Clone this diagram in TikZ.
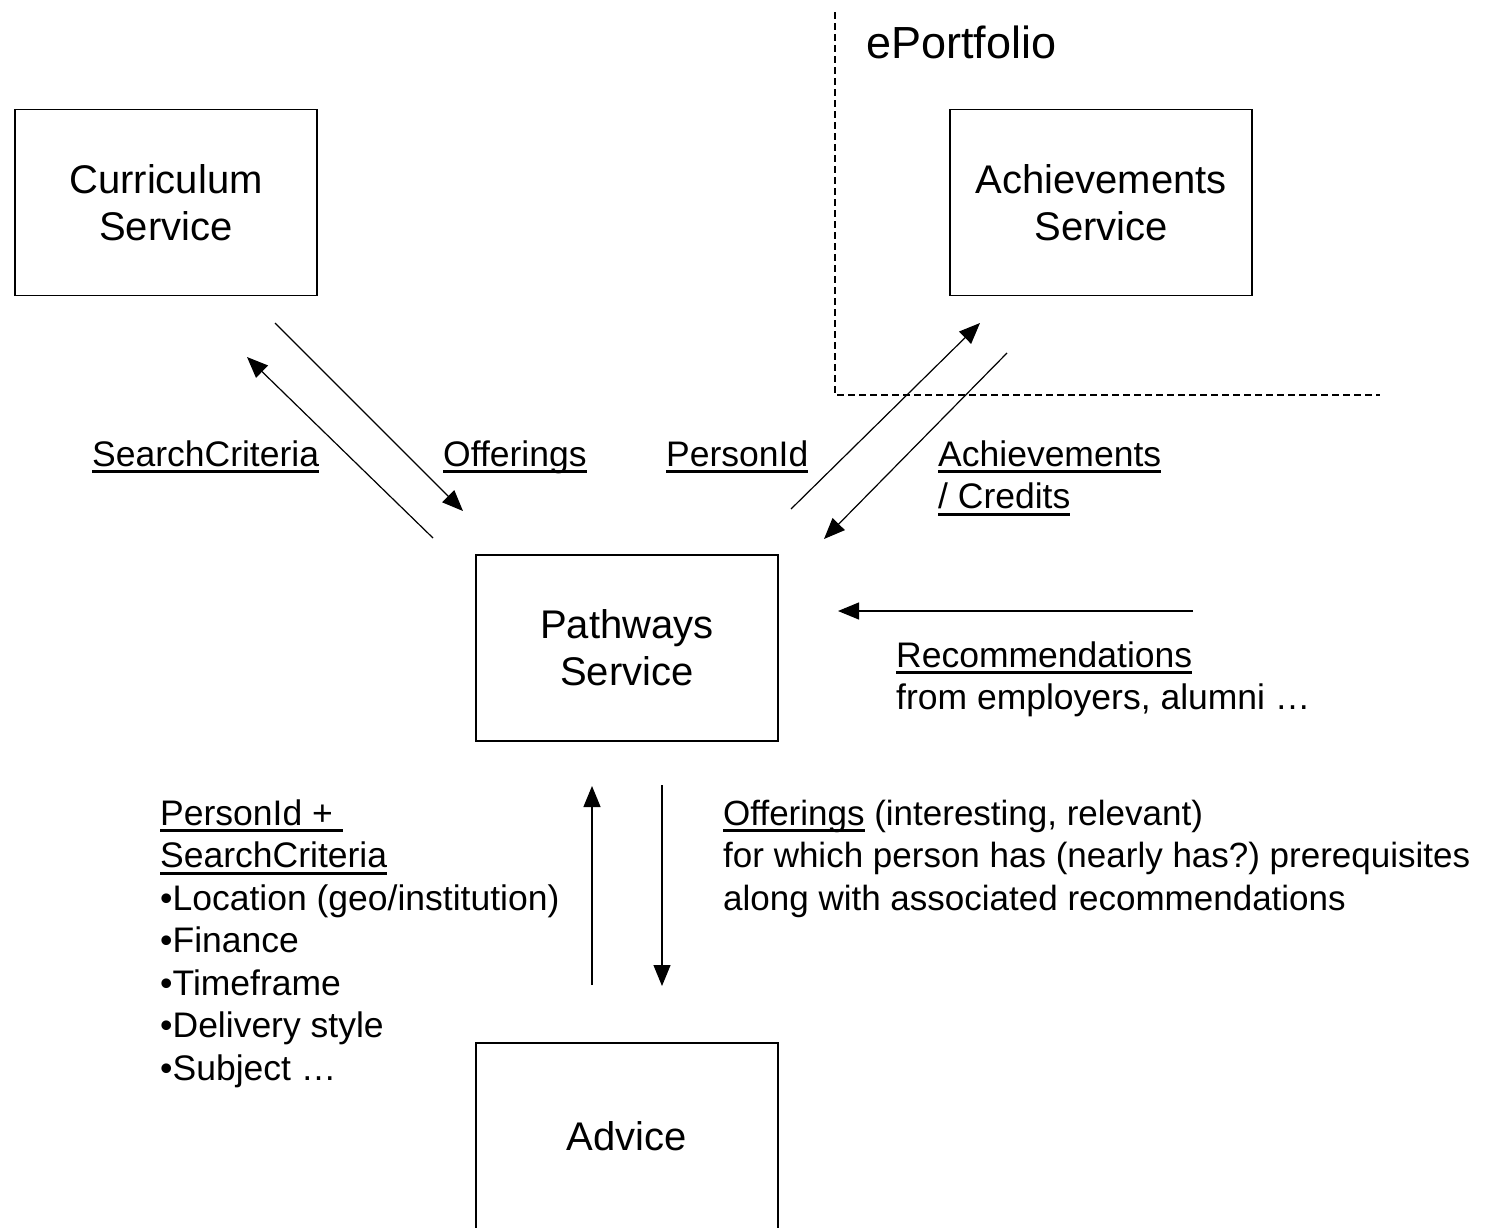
\documentclass[tikz,border=0pt]{standalone}
\usepackage{fontspec}
\setmainfont{Liberation Sans}
\usetikzlibrary{arrows.meta}
\frenchspacing
\newcommand{\ulx}[1]{\setbox0=\hbox{#1}\rlap{\rule[-0.2em]{\wd0}{0.08em}}\box0\relax}
\newcommand{\lbl}[1]{\begin{tabular}[t]{@{}l@{}}#1\end{tabular}}
\begin{document}
\begin{tikzpicture}[x=1pt,y=-1pt,
  svc/.style={draw, line width=1.6pt, minimum width=302pt, minimum height=186pt, align=center, inner sep=0pt, font=\fontsize{40}{47}\selectfont},
  txt/.style={anchor=base west, inner sep=0pt, font=\fontsize{35.5}{42.5}\selectfont},
  flow/.style={line width=1.2pt, -{Triangle[length=21pt,width=17pt]}},
  bnd/.style={line width=1.4pt, dash pattern=on 7pt off 4pt}]
\useasboundingbox[fill=white] (0,0) rectangle (1487,1227);

% boxes
\node[svc] (cur) at (166,202.5) {Curriculum\\Service};
\node[svc] (ach) at (1101,202.5) {Achievements\\Service};
\node[svc] (pth) at (627,648) {Pathways\\Service};
\node[svc] (adv) at (627,1136) {Advice};

% ePortfolio boundary
\coordinate (eTop) at (835,12);
\coordinate (eCorner) at (835,395);
\coordinate (eRight) at (1380,395);
\draw[bnd] (eTop) -- (eCorner) -- (eRight);
\node[anchor=base west, inner sep=0pt, font=\fontsize{45}{52}\selectfont] (eport) at (866,58) {ePortfolio};

% arrow endpoints
\coordinate (a1s) at (433,538); \coordinate (a1e) at (247,357);
\coordinate (a2s) at (275,323); \coordinate (a2e) at (463,511);
\coordinate (a3s) at (791,509); \coordinate (a3e) at (980,323);
\coordinate (a4s) at (1007,353); \coordinate (a4e) at (824,539);
\coordinate (a5s) at (1193,611); \coordinate (a5e) at (838,611);
\coordinate (a6s) at (592,985); \coordinate (a6e) at (592,786);
\coordinate (a7s) at (662,785); \coordinate (a7e) at (662,986);
\draw[flow] (a1s) -- (a1e);
\draw[flow] (a2s) -- (a2e);
\draw[flow] (a3s) -- (a3e);
\draw[flow] (a4s) -- (a4e);
\draw[flow] (a5s) -- (a5e);
\draw[flow] (a6s) -- (a6e);
\draw[flow] (a7s) -- (a7e);

% labels
\node[txt] (lsc) at (92,466) {\ulx{SearchCriteria}};
\node[txt] (lof) at (443,466) {\ulx{Offerings}};
\node[txt] (lpi) at (666,466) {\ulx{PersonId}};
\node[txt] (lac) at (938,466) {\lbl{\ulx{Achievements}\\\ulx{/ Credits}}};
\node[txt] (lrc) at (896,667) {\lbl{\ulx{Recommendations}\\from employers, alumni …}};
\node[txt] (lsearch) at (160,825) {\lbl{\ulx{PersonId +\ }\\\ulx{SearchCriteria}\\•Location (geo/institution)\\•Finance\\•Timeframe\\•Delivery style\\•Subject …}};
\node[txt, font=\fontsize{35}{42.5}\selectfont] (loff) at (723,825) {\lbl{\ulx{Offerings} (interesting, relevant)\\for which person has (nearly has?) prerequisites\\along with associated recommendations}};
\end{tikzpicture}
\end{document}
